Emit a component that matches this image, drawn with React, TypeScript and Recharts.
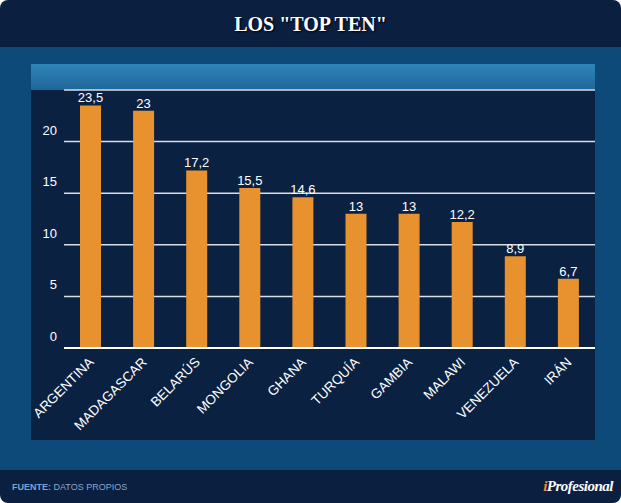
import { BarChart, Bar, XAxis, YAxis, CartesianGrid, LabelList } from 'recharts';

const countries = ['ARGENTINA', 'MADAGASCAR', 'BELARÚS', 'MONGOLIA', 'GHANA', 'TURQUÍA', 'GAMBIA', 'MALAWI', 'VENEZUELA', 'IRÁN'];
const values = [23.5, 23, 17.2, 15.5, 14.6, 13, 13, 12.2, 8.9, 6.7];
const yTicks = [0, 5, 10, 15, 20, 25];

const chartData = countries.map((name, i) => ({ name, value: values[i] }));

const fmt = (v: number) => String(v).replace('.', ',');

const YTick = ({ x, y, payload }: any) => {
    if (payload.value === 25) return null;
    return (
        <text x={x + 1} y={y - 7} textAnchor="end" fill="#ffffff" fontSize={13} fontFamily="Arial, Liberation Sans, sans-serif">
            {payload.value}
        </text>
    );
};

const XTick = ({ x, y, payload }: any) => (
    <text
        x={x + 4}
        y={y + 7}
        textAnchor="end"
        fill="#ffffff"
        fontSize={13.5}
        fontFamily="Arial, Liberation Sans, sans-serif"
        transform={`rotate(-45 ${x + 4} ${y + 7})`}
    >
        {payload.value}
    </text>
);

export default function App() {
    return (
        <div
            style={{
                position: 'absolute',
                left: 0,
                top: 0,
                width: 621,
                height: 503,
                background: '#0b1f41',
                borderRadius: 8,
                overflow: 'hidden',
                fontFamily: 'Arial, Liberation Sans, sans-serif',
            }}
        >
            <div
                style={{
                    position: 'absolute',
                    top: 0,
                    left: 0,
                    width: 621,
                    height: 47,
                    textAlign: 'center',
                    lineHeight: '48px',
                    color: '#ffffff',
                    fontFamily: 'Liberation Serif, Times New Roman, serif',
                    fontWeight: 'bold',
                    fontSize: 20,
                    textShadow: '1px 1px 2px #000',
                }}
            >
                LOS "TOP TEN"
            </div>
            <div style={{ position: 'absolute', top: 47, left: 0, width: 621, height: 423, background: '#0d4a7a' }} />
            <div
                style={{
                    position: 'absolute',
                    top: 64,
                    left: 31,
                    width: 564,
                    height: 376,
                    background: '#0b2142',
                }}
            >
                <div
                    style={{
                        position: 'absolute',
                        top: 0,
                        left: 0,
                        width: 564,
                        height: 26,
                        background: 'linear-gradient(#3085b9, #1f6699)',
                    }}
                />
                <div style={{ position: 'absolute', top: 0, left: 0 }}>
                    <BarChart
                        width={564}
                        height={376}
                        data={chartData}
                        margin={{ top: 26, right: 0, bottom: 0, left: 0 }}
                        barCategoryGap="30%"
                        style={{ overflow: 'visible' }}
                    >
                        <CartesianGrid vertical={false} stroke="#d8dde6" strokeWidth={1.5} />
                        <XAxis
                            dataKey="name"
                            interval={0}
                            height={92}
                            tick={<XTick />}
                            tickLine={false}
                            axisLine={{ stroke: '#ffffff', strokeWidth: 2 }}
                        />
                        <YAxis
                            width={33}
                            domain={[0, 25]}
                            ticks={yTicks}
                            tick={<YTick />}
                            tickLine={false}
                            axisLine={false}
                        />
                        <Bar dataKey="value" fill="#e8922f" barSize={21} isAnimationActive={false}>
                            <LabelList
                                dataKey="value"
                                position="top"
                                formatter={(v: any) => fmt(v)}
                                fill="#ffffff"
                                fontSize={13}
                                offset={3}
                            />
                        </Bar>
                    </BarChart>
                </div>
            </div>
            <div style={{ position: 'absolute', top: 482, left: 12, fontSize: 9, color: '#8aa7c8' }}>
                <b style={{ color: '#7fa3cf' }}>FUENTE:</b> DATOS PROPIOS
            </div>
            <div
                style={{
                    position: 'absolute',
                    top: 478,
                    right: 8,
                    fontFamily: 'Liberation Serif, Times New Roman, serif',
                    fontStyle: 'italic',
                    fontWeight: 'bold',
                    fontSize: 15,
                    letterSpacing: -0.5,
                    color: '#ffffff',
                }}
            >
                <span style={{ color: '#e8922f' }}>i</span>Profesional
            </div>
        </div>
    );
}
